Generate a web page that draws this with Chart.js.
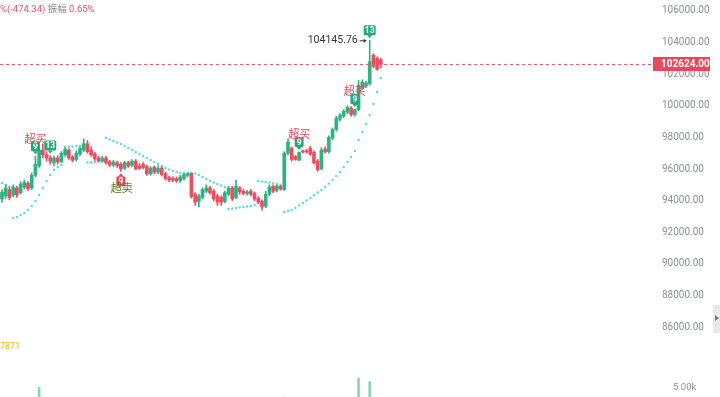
<!DOCTYPE html>
<html><head><meta charset="utf-8">
<script src="https://cdn.jsdelivr.net/npm/chart.js@4.4.0/dist/chart.umd.min.js"></script>
<style>
html,body{margin:0;padding:0;width:720px;height:397px;overflow:hidden;background:#fff;}
#wrap{position:relative;width:720px;height:397px;overflow:hidden;}
#pc{position:absolute;left:0;top:0;}
#vc{position:absolute;left:0;top:340px;}
.t{position:absolute;font-family:Roboto,"Noto Sans CJK SC",sans-serif;white-space:nowrap;line-height:12px;}
</style></head><body>
<div id="wrap">
<canvas id="pc" width="720" height="338"></canvas>
<canvas id="vc" width="720" height="100"></canvas>
<div class="t" style="left:0;top:3px;font-size:9.5px;"><span style="color:#e8506a">%(-474.34)</span> <span style="color:#8a8a8a">振幅</span> <span style="color:#e8506a">0.65%</span></div>
<div class="t" style="left:0;top:340px;font-size:9px;color:#f0b90b">7871</div>
<div style="position:absolute;left:713px;top:305px;width:7px;height:28px;background:#e9e9e9;"></div>
<div style="position:absolute;left:715px;top:315px;width:0;height:0;border-top:3px solid transparent;border-bottom:3px solid transparent;border-left:4px solid #777;"></div>
</div>
<script>
const OPEN  = [94100,94300,94700,94350,94800,94500,94850,95100,94800,95600,96200,97200,96900,96700,96400,96700,96450,96900,97200,96750,96600,96950,97200,97600,97200,96950,96700,96500,96700,96450,96250,96400,96300,96050,96400,96250,96500,96200,96300,96150,95700,96100,95800,96050,95700,95450,95400,95400,95250,95400,95600,95720,94400,93950,94200,94600,94800,94600,94300,94200,93950,94400,94800,94200,94800,94600,94450,94600,94450,94150,93950,93650,94400,94900,94650,94900,94700,97000,97300,96800,96550,97150,97150,97300,97050,96500,96000,97250,97100,97950,98500,99150,99350,99600,99850,99450,99750,101100,101250,101400,103200,103000,102900];
const HIGH  = [94700,95000,94850,95000,94900,95200,95300,95200,95750,96800,97500,97600,97100,96850,96800,96850,97100,97350,97300,96850,97150,97400,97900,97800,97400,97050,96800,96800,96800,96550,96550,96500,96400,96500,96500,96600,96600,96350,96400,96250,96150,96200,96200,96150,95800,95550,95500,95500,95600,95720,95740,95740,94500,94400,94800,95000,94900,94700,94400,94300,94600,94900,94900,95300,94900,94700,94650,94700,94550,94250,94050,94600,95000,95000,95000,94950,97100,97900,97400,96850,97070,97200,97250,97450,97150,96600,97350,97400,98100,98600,99350,99500,99750,100000,99950,99800,101600,101650,101550,104145.76,103300,103100,103000];
const LOW   = [93900,94150,94050,94250,94200,94400,94750,94650,94700,95500,96100,96700,96500,96300,96200,96300,96400,96800,96600,96450,96500,96850,97100,97000,96800,96550,96480,96480,96300,96150,96150,96100,95850,95950,96100,96150,95950,95950,96000,95600,95600,95700,95700,95550,95300,95200,95200,95150,95150,95300,95500,94150,93700,93600,94100,94500,94400,94000,93700,93700,93850,94300,94000,94100,94400,94350,94350,94300,94000,93800,93400,93550,94300,94500,94550,94650,94650,96900,96500,96550,96550,97000,97000,96850,96300,95850,95950,97000,97000,97850,98400,99050,99250,99500,99350,99350,99700,101000,101150,101300,102400,102250,102400];
const CLOSE = [94530,94800,94200,94850,94350,95050,95150,94750,95600,96300,97200,96900,96700,96500,96700,96450,97000,97250,96700,96550,97000,97300,97600,97100,96900,96650,96500,96700,96400,96250,96450,96200,96000,96400,96200,96500,96000,96050,96100,95700,96050,95800,96050,95650,95400,95300,95300,95250,95500,95650,95700,94250,93900,94300,94700,94800,94500,94100,93900,93900,94500,94800,94100,94900,94550,94450,94550,94400,94100,93900,93600,94400,94850,94600,94900,94750,97000,97700,96600,96600,97050,97080,97080,96950,96400,95950,97200,97100,98000,98500,99200,99400,99650,99900,99450,99750,101300,101500,101450,102800,102500,102300,102624];
const VOLUME = [1200,900,1100,800,1000,1300,900,1000,1800,2600,5100,2400,1500,1100,900,1000,1200,1100,1300,900,800,1000,1600,1400,1100,900,800,700,900,1000,800,900,1100,1000,800,900,1200,800,700,900,1300,800,700,900,1100,1000,700,600,800,900,800,3200,2100,1600,1200,1000,900,1100,1300,1000,1200,1400,1500,1800,1100,900,700,900,1000,1200,1600,1900,1400,1000,1100,900,3700,2800,1600,1200,1000,700,800,1100,1400,1900,1500,1200,1300,1700,2400,1600,1300,1500,1700,1600,6400,2300,1500,5900,3300,2200,1800];
const SAR = [95114,94987,94900,
  92899,92962,93089,93215,93405,93658,93975,94354,94797,95240,95620,95937,96127,96253,
  97393,97410,97430,97456,97480,97519,
  96420,96430,96440,96450,96460,
  97962,97867,97772,97677,97582,97456,97329,97203,97076,96950,96823,96696,96570,96443,96317,96190,96063,95968,95873,95810,95747,95747,95747,95747,95715,95620,95494,95367,95241,95146,95051,94956,94861,
  93469,93500,93532,93563,93595,93627,93658,93722,
  95241,95209,95177,95146,95114,95051,94987,
  93279,93342,93405,93532,93690,93848,94007,94165,94354,94513,94671,94861,95082,95304,95557,95810,96127,96443,96759,97139,97836,98342,98848,99418,100114,100873,101760];
const PRICE_TICKS = [86000,88000,90000,92000,94000,96000,98000,100000,102000,104000,106000];
const VOLUME_TICKS = [5000];
const LAST_PRICE = 102624.00;
const SIGNAL_INDEX = [9, 13, 32, 80, 95, 99];
const SIGNAL_NUM   = ['9','13','9','9','9','13'];
const SIGNAL_SIDE  = ['top','top','bottom','top','top','top'];
const SIGNAL_TEXT  = ['超买','','超卖','超买','超买',''];

const GREEN = '#2db383', RED = '#ec4d5f';
const N = CLOSE.length;
const idx = Array.from({length:N},(_,i)=>i);
const up = idx.map(i=>CLOSE[i]>=OPEN[i]);
const colors = idx.map(i=>up[i]?GREEN:RED);

function xAxis(){ return {type:'linear', display:false, offset:false, min:-0.538, max:177.7}; }

function rrect(ctx,x,y,w,h,r){ctx.beginPath();ctx.moveTo(x+r,y);ctx.lineTo(x+w-r,y);ctx.quadraticCurveTo(x+w,y,x+w,y+r);ctx.lineTo(x+w,y+h-r);ctx.quadraticCurveTo(x+w,y+h,x+w-r,y+h);ctx.lineTo(x+r,y+h);ctx.quadraticCurveTo(x,y+h,x,y+h-r);ctx.lineTo(x,y+r);ctx.quadraticCurveTo(x,y,x+r,y);ctx.closePath();}
function box(ctx,cx,cy,txt,color,dir){
  const w = txt.length>1?12:9, h=10;
  ctx.fillStyle=color;
  rrect(ctx,cx-w/2,cy-h/2,w,h,1.5);ctx.fill();
  ctx.beginPath();
  if(dir==='down'){ctx.moveTo(cx-2.5,cy+h/2);ctx.lineTo(cx+2.5,cy+h/2);ctx.lineTo(cx,cy+h/2+3);}
  else {ctx.moveTo(cx-2.5,cy-h/2);ctx.lineTo(cx+2.5,cy-h/2);ctx.lineTo(cx,cy-h/2-3);}
  ctx.fill();
  ctx.fillStyle='#fff';ctx.font='bold 8.5px Roboto, sans-serif';ctx.textAlign='center';ctx.textBaseline='middle';
  ctx.fillText(txt,cx,cy+0.5);
}
const overlay = {
  id:'overlay',
  afterDraw(chart){
    const ctx=chart.ctx, xs=chart.scales.x, ys=chart.scales.y;
    ctx.save();
    for(let k=0;k<SIGNAL_INDEX.length;k++){
      const i=SIGNAL_INDEX[k], cx=xs.getPixelForValue(i);
      if(SIGNAL_SIDE[k]==='top'){
        const cy=ys.getPixelForValue(HIGH[i])-10;
        box(ctx,cx,cy,SIGNAL_NUM[k],'#26a97c','down');
        if(SIGNAL_TEXT[k]){ctx.fillStyle='#e8475a';ctx.font='11px "Noto Sans CJK SC", sans-serif';ctx.textAlign='center';ctx.textBaseline='middle';ctx.fillText(SIGNAL_TEXT[k],cx,cy-8);}
      } else {
        const cy=ys.getPixelForValue(LOW[i])+10;
        box(ctx,cx,cy,SIGNAL_NUM[k],'#e8475a','up');
        if(SIGNAL_TEXT[k]){ctx.fillStyle='#55791f';ctx.font='11px "Noto Sans CJK SC", sans-serif';ctx.textAlign='center';ctx.textBaseline='middle';ctx.fillText(SIGNAL_TEXT[k],cx+1,cy+6);}
      }
    }
    let hi=0; for(let i=1;i<N;i++) if(HIGH[i]>HIGH[hi]) hi=i;
    const hx=xs.getPixelForValue(hi), hy=ys.getPixelForValue(HIGH[hi]);
    ctx.fillStyle='#333';ctx.font='10.5px Roboto, sans-serif';ctx.textAlign='right';ctx.textBaseline='middle';
    ctx.fillText(HIGH[hi].toFixed(2),hx-12,hy);
    ctx.strokeStyle='#333';ctx.lineWidth=1;ctx.beginPath();ctx.moveTo(hx-10,hy+0.5);ctx.lineTo(hx-4,hy+0.5);ctx.stroke();
    ctx.beginPath();ctx.moveTo(hx-3,hy+0.5);ctx.lineTo(hx-6,hy-1.5);ctx.lineTo(hx-6,hy+2.5);ctx.closePath();ctx.fillStyle='#333';ctx.fill();
    const py=Math.round(ys.getPixelForValue(LAST_PRICE))+0.5;
    ctx.strokeStyle='#ec5a6e';ctx.lineWidth=1;ctx.setLineDash([3,3]);ctx.beginPath();ctx.moveTo(0,py);ctx.lineTo(653,py);ctx.stroke();ctx.setLineDash([]);
    ctx.fillStyle='#e9475b';ctx.fillRect(653,py-7.5,57,14);
    ctx.fillStyle='#fff';ctx.font='bold 10px Roboto, sans-serif';ctx.textAlign='left';ctx.textBaseline='middle';
    ctx.fillText(LAST_PRICE.toFixed(2),661,py);
    ctx.restore();
  }
};

new Chart(document.getElementById('pc'),{
  type:'bar',
  data:{datasets:[
    {type:'line',data:idx.map(i=>({x:i,y:SAR[i]})),showLine:false,pointRadius:1.2,pointBorderWidth:0,pointBackgroundColor:'#55dbe4',order:3},
    {type:'bar',data:idx.map(i=>({x:i,y:[LOW[i],HIGH[i]]})),backgroundColor:colors,barThickness:1,grouped:false,order:2},
    {type:'bar',data:idx.map(i=>({x:i,y:[Math.min(OPEN[i],CLOSE[i]),Math.max(OPEN[i],CLOSE[i])]})),backgroundColor:colors,barThickness:3,minBarLength:1,grouped:false,order:1}
  ]},
  options:{
    responsive:false,animation:false,events:[],
    layout:{padding:0,autoPadding:false},
    plugins:{legend:{display:false},tooltip:{enabled:false}},
    scales:{
      x:xAxis(),
      y:{position:'right',min:85684,max:106316,
        grid:{display:false,drawTicks:false},border:{display:false},
        afterBuildTicks(s){s.ticks=PRICE_TICKS.map(v=>({value:v}));},
        afterFit(s){s.width=58;},
        ticks:{padding:0,color:'#8a9099',font:{family:'Roboto',size:10,lineHeight:1.2},callback:v=>Number(v).toFixed(2)}
      }
    }
  },
  plugins:[overlay]
});

new Chart(document.getElementById('vc'),{
  type:'bar',
  data:{datasets:[
    {data:idx.map(i=>({x:i,y:VOLUME[i]})),backgroundColor:idx.map(i=>up[i]?'rgba(45,179,131,0.55)':'rgba(236,77,95,0.55)'),barThickness:2}
  ]},
  options:{
    responsive:false,animation:false,events:[],
    layout:{padding:0,autoPadding:false},
    plugins:{legend:{display:false},tooltip:{enabled:false}},
    scales:{
      x:xAxis(),
      y:{position:'right',min:0,max:9434,
        grid:{display:false,drawTicks:false},border:{display:false},
        afterBuildTicks(s){s.ticks=VOLUME_TICKS.map(v=>({value:v}));},
        afterFit(s){s.width=58;},
        ticks:{padding:11,color:'#8a9099',font:{family:'Roboto',size:9.5},callback:v=>(v/1000).toFixed(2)+'k'}
      }
    }
  }
});
</script>
</body></html>
